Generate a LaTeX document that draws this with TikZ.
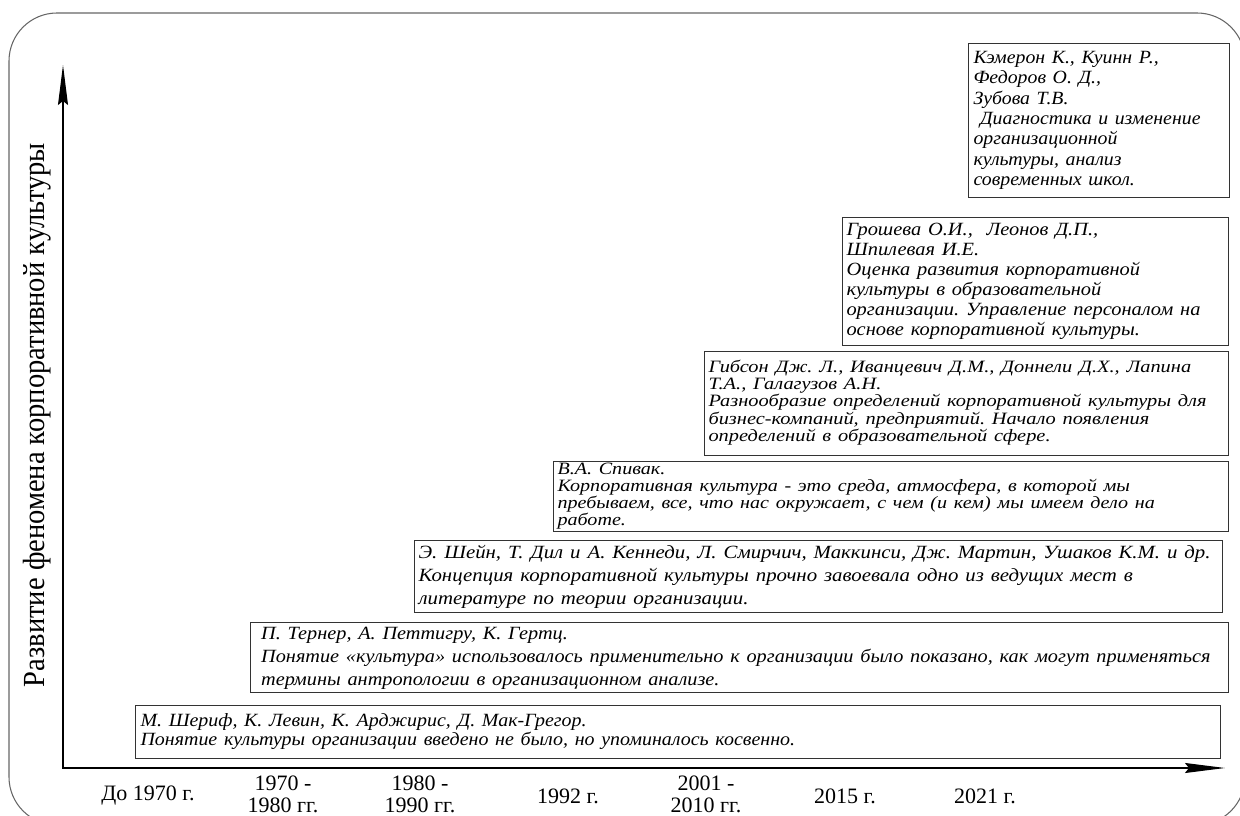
\documentclass[tikz,border=0pt]{standalone}
\usepackage{graphicx}
\usepackage{fontspec}
\setmainfont{Liberation Serif}
\usetikzlibrary{arrows.meta}
\frenchspacing
\newcommand{\squeezeto}[2]{\resizebox{#1}{\height}{\begin{tabular}{@{}l@{}}#2\end{tabular}}}
\begin{document}
\begin{tikzpicture}
            [x=0.75pt, y=-0.75pt,
             box/.style = {draw=black!80, line width=0.8pt, anchor=north west, align=left, inner ysep=0pt, inner xsep=3pt},
             year/.style = {align=center, font=\fontsize{16.5pt}{16.5pt}\selectfont},
             axis/.style = {line width=1pt, {Stealth[length=30pt, width=7.5pt, inset=3pt]}-{Stealth[length=30pt, width=7.5pt, inset=3pt]}}]
            \useasboundingbox (0,0) rectangle (1240,816);
            \begin{scope}
                \clip (0,0) rectangle (1240,816);
                \draw[black!60, line width=0.8pt, rounded corners=36pt] (9,13) rectangle (1245,825);
            \end{scope}
            \coordinate (O) at (63,768);
            \coordinate (ytip) at (63,65);
            \coordinate (xtip) at (1225,768);
            \draw[axis] (ytip) -- (O) -- (xtip);
            \node[rotate=90] (ylab) at (37,415) {\resizebox{408pt}{\height}{\fontsize{23pt}{26pt}\selectfont Развитие феномена корпоративной культуры}};
            \node[box, inner xsep=3.75pt, text width=806.25pt, minimum height=39.75pt, font=\itshape\fontsize{14pt}{14.25pt}\selectfont] (b1) at (135,705)
                {\squeezeto{491pt}{М. Шериф, К. Левин, К. Арджирис, Д. Мак-Грегор.\\Понятие культуры организации введено не было, но упоминалось косвенно.}};
            \node[box, inner xsep=8pt, text width=717.5pt, minimum height=52.5pt, font=\itshape\fontsize{14pt}{17.25pt}\selectfont] (b2) at (250,622)
                {\squeezeto{712pt}{П. Тернер, А. Петтигру, К. Гертц.\\Понятие «культура» использовалось применительно к организации было показано, как могут применяться\\термины антропологии в организационном анализе.}};
            \node[box, text width=600pt, minimum height=54pt, font=\itshape\fontsize{14pt}{17.25pt}\selectfont] (b3) at (414,540)
                {\squeezeto{594pt}{Э. Шейн, Т. Дил и А. Кеннеди, Л. Смирчич, Маккинси, Дж. Мартин, Ушаков К.М. и др.\\Концепция корпоративной культуры прочно завоевала одно из ведущих мест в\\литературе по теории организации.}};
            \node[box, text width=500pt, minimum height=52.5pt, font=\itshape\fontsize{13pt}{12pt}\selectfont] (b4) at (553,461)
                {\squeezeto{448pt}{В.А. Спивак.\\Корпоративная культура - это среда, атмосфера, в которой мы\\пребываем, все, что нас окружает, с чем (и кем) мы имеем дело на\\работе.}};
            \node[box, text width=387pt, minimum height=78pt, font=\itshape\fontsize{13pt}{12.75pt}\selectfont] (b5) at (704,351)
                {\squeezeto{373.5pt}{Гибсон Дж. Л., Иванцевич Д.М., Доннели Д.Х., Лапина\\Т.А., Галагузов А.Н.\\Разнообразие определений корпоративной культуры для\\бизнес-компаний, предприятий. Начало появления\\определений в образовательной сфере.}};
            \node[box, text width=283.5pt, minimum height=96pt, font=\itshape\fontsize{14pt}{15pt}\selectfont] (b6) at (842,217)
                {\squeezeto{265.5pt}{Грошева О.И.,\ \ Леонов Д.П.,\\Шпилевая И.Е.\\Оценка развития корпоративной\\культуры в образовательной\\организации. Управление персоналом на\\основе корпоративной культуры.}};
            \node[box, inner xsep=3.75pt, text width=188.25pt, minimum height=115.5pt, font=\itshape\fontsize{14pt}{15.25pt}\selectfont] (b7) at (968,43)
                {\squeezeto{170.25pt}{Кэмерон К., Куинн Р.,\\Федоров О. Д.,\\Зубова Т.В.\\\ Диагностика и изменение\\организационной\\культуры, анализ\\современных школ.}};
            \node[year] (y1) at (148,796) {До 1970 г.};
            \node[year] (y2) at (283,794) {1970 -\\1980 гг.};
            \node[year] (y3) at (420,794) {1980 -\\1990 гг.};
            \node[year] (y4) at (568,796) {1992 г.};
            \node[year] (y5) at (706,794) {2001 -\\2010 гг.};
            \node[year] (y6) at (845,796) {2015 г.};
            \node[year] (y7) at (985,796) {2021 г.};
        \end{tikzpicture}
\end{document}
